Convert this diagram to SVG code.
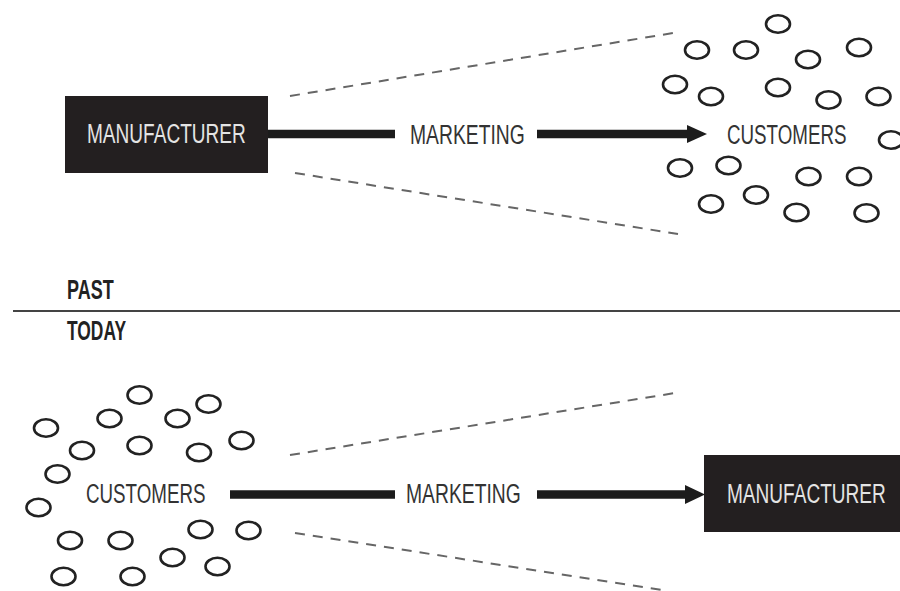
<svg xmlns="http://www.w3.org/2000/svg" width="900" height="591" viewBox="0 0 900 591">
<style>
.bg{fill:#ffffff}
.box{fill:#231f20}
.t{font-family:"Liberation Sans",Arial,sans-serif;font-size:28px;fill:#333}
.tw{font-family:"Liberation Sans",Arial,sans-serif;font-size:28px;fill:#e4e4e4}
.tb{font-family:"Liberation Sans",Arial,sans-serif;font-size:27px;font-weight:bold;fill:#222}
.c{fill:none;stroke:#222;stroke-width:2.6}
.dash{stroke:#666;stroke-width:2;stroke-dasharray:10 8;fill:none}
.thick{stroke:#1c1c1c;stroke-width:8.5;fill:none}
.head{fill:#1c1c1c}
.div{stroke:#444;stroke-width:2}
</style>
<rect class="bg" x="0" y="0" width="900" height="591"/>

<g id="connectors">
  <line class="dash" x1="290" y1="96" x2="673" y2="33"/>
  <line class="dash" x1="295" y1="173" x2="678" y2="234"/>
  <line class="thick" x1="268" y1="134" x2="395" y2="134"/>
  <line class="thick" x1="537" y1="134" x2="690" y2="134"/>
  <polygon class="head" points="687,125 707,134 687,143"/>

  <line class="dash" x1="290" y1="455" x2="675" y2="393"/>
  <line class="dash" x1="295" y1="533" x2="662" y2="590"/>
  <line class="thick" x1="230" y1="494.5" x2="395" y2="494.5"/>
  <line class="thick" x1="537" y1="494.5" x2="688" y2="494.5"/>
  <polygon class="head" points="685,485 705,494.5 685,504"/>
</g>

<g id="past-manufacturer">
  <rect class="box" x="65" y="96" width="203" height="77"/>
  <text class="tw" transform="translate(87,143) scale(0.681,1)">MANUFACTURER</text>
</g>
<g id="past-marketing">
  <text class="t" transform="translate(410,144) scale(0.69,1)">MARKETING</text>
</g>
<g id="past-customers">
  <text class="t" transform="translate(727,144) scale(0.67,1)">CUSTOMERS</text>
  <ellipse class="c" cx="778" cy="24" rx="12" ry="8.7"/>
  <ellipse class="c" cx="697" cy="50" rx="12" ry="8.7"/>
  <ellipse class="c" cx="746" cy="50" rx="12" ry="8.7"/>
  <ellipse class="c" cx="808" cy="59.5" rx="12" ry="8.7"/>
  <ellipse class="c" cx="859" cy="47.5" rx="12" ry="8.7"/>
  <ellipse class="c" cx="675" cy="84.5" rx="12" ry="8.7"/>
  <ellipse class="c" cx="711" cy="96.5" rx="12" ry="8.7"/>
  <ellipse class="c" cx="778" cy="87.5" rx="12" ry="8.7"/>
  <ellipse class="c" cx="828.5" cy="100" rx="12" ry="8.7"/>
  <ellipse class="c" cx="878.5" cy="96.5" rx="12" ry="8.7"/>
  <ellipse class="c" cx="891" cy="140" rx="12" ry="8.7"/>
  <ellipse class="c" cx="680" cy="168" rx="12" ry="8.7"/>
  <ellipse class="c" cx="728.5" cy="165.5" rx="12" ry="8.7"/>
  <ellipse class="c" cx="808.5" cy="176.5" rx="12" ry="8.7"/>
  <ellipse class="c" cx="859" cy="176.5" rx="12" ry="8.7"/>
  <ellipse class="c" cx="711" cy="204" rx="12" ry="8.7"/>
  <ellipse class="c" cx="756" cy="195" rx="12" ry="8.7"/>
  <ellipse class="c" cx="796.5" cy="212.5" rx="12" ry="8.7"/>
  <ellipse class="c" cx="866.5" cy="213" rx="12" ry="8.7"/>
</g>

<g id="divider">
  <line class="div" x1="13" y1="311" x2="900" y2="311"/>
  <text class="tb" transform="translate(67,299) scale(0.667,1)">PAST</text>
  <text class="tb" transform="translate(67,340) scale(0.645,1)">TODAY</text>
</g>

<g id="today-customers">
  <text class="t" transform="translate(86,503) scale(0.67,1)">CUSTOMERS</text>
  <ellipse class="c" cx="139.5" cy="395" rx="12" ry="8.7"/>
  <ellipse class="c" cx="208.5" cy="404" rx="12" ry="8.7"/>
  <ellipse class="c" cx="109.5" cy="418.5" rx="12" ry="8.7"/>
  <ellipse class="c" cx="177.5" cy="418.5" rx="12" ry="8.7"/>
  <ellipse class="c" cx="46" cy="428" rx="12" ry="8.7"/>
  <ellipse class="c" cx="82" cy="450.5" rx="12" ry="8.7"/>
  <ellipse class="c" cx="139.5" cy="445.5" rx="12" ry="8.7"/>
  <ellipse class="c" cx="199" cy="452.5" rx="12" ry="8.7"/>
  <ellipse class="c" cx="241.5" cy="440.5" rx="12" ry="8.7"/>
  <ellipse class="c" cx="57.5" cy="474" rx="12" ry="8.7"/>
  <ellipse class="c" cx="38.5" cy="507.5" rx="12" ry="8.7"/>
  <ellipse class="c" cx="70" cy="540.5" rx="12" ry="8.7"/>
  <ellipse class="c" cx="120.5" cy="540.5" rx="12" ry="8.7"/>
  <ellipse class="c" cx="200.5" cy="529.5" rx="12" ry="8.7"/>
  <ellipse class="c" cx="248.5" cy="530.5" rx="12" ry="8.7"/>
  <ellipse class="c" cx="172.5" cy="557.5" rx="12" ry="8.7"/>
  <ellipse class="c" cx="217.5" cy="566.5" rx="12" ry="8.7"/>
  <ellipse class="c" cx="63.5" cy="576.5" rx="12" ry="8.7"/>
  <ellipse class="c" cx="132.5" cy="576.5" rx="12" ry="8.7"/>
</g>
<g id="today-marketing">
  <text class="t" transform="translate(406,503) scale(0.69,1)">MARKETING</text>
</g>
<g id="today-manufacturer">
  <rect class="box" x="704" y="455" width="200" height="77"/>
  <text class="tw" transform="translate(727,503) scale(0.681,1)">MANUFACTURER</text>
</g>
</svg>
